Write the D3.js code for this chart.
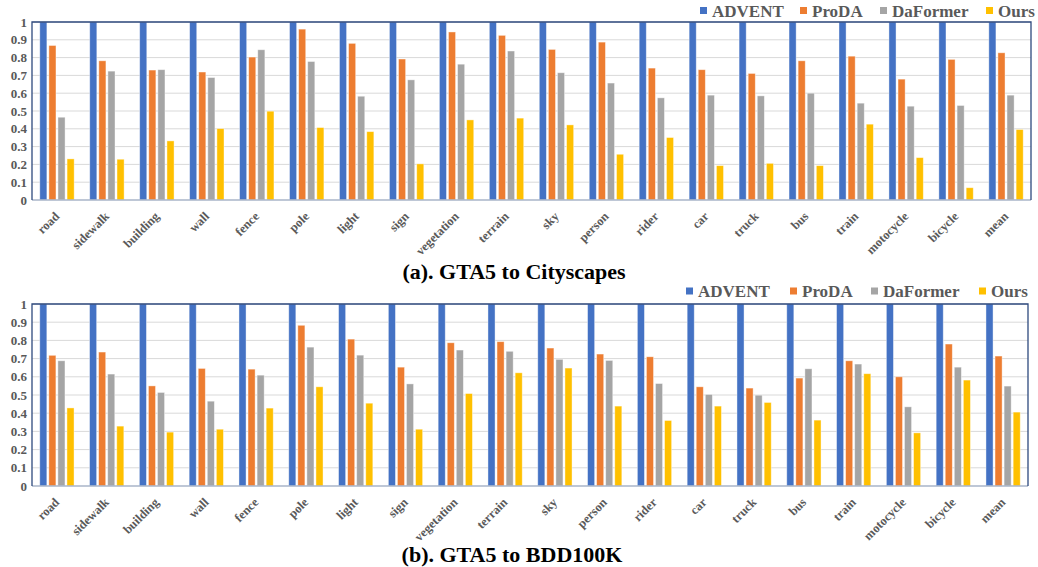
<!DOCTYPE html>
<html>
<head>
<meta charset="utf-8">
<script src="https://cdn.jsdelivr.net/npm/d3@7"></script>
<style>
  body { margin: 0; background: #fff; }
</style>
</head>
<body>
<svg id="chart" width="1038" height="567"></svg>
<script>
// categories and series
const categories = ["road", "sidewalk", "building", "wall", "fence", "pole", "light", "sign",
    "vegetation", "terrain", "sky", "person", "rider", "car", "truck", "bus", "train",
    "motocycle", "bicycle", "mean"];
const seriesNames = ["ADVENT", "ProDA", "DaFormer", "Ours"];
const seriesColors = ["#4472C4", "#ED7D31", "#A5A5A5", "#FFC000"];
const yTicks = [0, 0.1, 0.2, 0.3, 0.4, 0.5, 0.6, 0.7, 0.8, 0.9, 1];

// (a) GTA5 to Cityscapes
const cityAdvent = [1, 1, 1, 1, 1, 1, 1, 1, 1, 1, 1, 1, 1, 1, 1, 1, 1, 1, 1, 1];
const cityProda = [0.868, 0.782, 0.730, 0.719, 0.803, 0.960, 0.880, 0.792, 0.944, 0.925,
    0.846, 0.887, 0.741, 0.732, 0.711, 0.782, 0.808, 0.679, 0.790, 0.827];
const cityDaformer = [0.465, 0.724, 0.732, 0.688, 0.844, 0.778, 0.583, 0.675, 0.763, 0.837,
    0.715, 0.657, 0.574, 0.589, 0.585, 0.600, 0.544, 0.527, 0.531, 0.589];
const cityOurs = [0.231, 0.229, 0.332, 0.401, 0.499, 0.407, 0.384, 0.203, 0.450, 0.460,
    0.422, 0.257, 0.351, 0.193, 0.206, 0.193, 0.426, 0.238, 0.069, 0.396];

// (b) GTA5 to BDD100K
const bddAdvent = [1, 1, 1, 1, 1, 1, 1, 1, 1, 1, 1, 1, 1, 1, 1, 1, 1, 1, 1, 1];
const bddProda = [0.718, 0.736, 0.550, 0.646, 0.642, 0.883, 0.807, 0.653, 0.787, 0.793,
    0.758, 0.725, 0.710, 0.545, 0.538, 0.593, 0.688, 0.600, 0.780, 0.714];
const bddDaformer = [0.688, 0.615, 0.514, 0.466, 0.609, 0.763, 0.719, 0.561, 0.747, 0.740,
    0.696, 0.690, 0.563, 0.503, 0.499, 0.644, 0.670, 0.435, 0.653, 0.549];
const bddOurs = [0.429, 0.329, 0.296, 0.312, 0.428, 0.545, 0.455, 0.312, 0.508, 0.622,
    0.648, 0.439, 0.360, 0.439, 0.459, 0.362, 0.617, 0.292, 0.582, 0.406];

const serif = "Liberation Serif";
const svg = d3.select("#chart");

function drawPanel(cfg) {
    const g = svg.append("g");
    const values = [cfg.advent, cfg.proda, cfg.daformer, cfg.ours];

    let x0 = d3.scaleBand()
        .domain(categories)
        .range([cfg.left, cfg.right])
        .paddingInner(0.312)
        .paddingOuter(0.156);
    let x1 = d3.scaleBand()
        .domain(seriesNames)
        .range([0, x0.bandwidth()])
        .paddingInner(0.22);
    let y = d3.scaleLinear().domain([0, 1]).range([cfg.bottom, cfg.top]);

    // gridlines
    g.selectAll("grid")
        .data(yTicks.slice(1))
        .enter().append("line")
        .attr("x1", cfg.left).attr("x2", cfg.right)
        .attr("y1", d => y(d)).attr("y2", d => y(d))
        .attr("stroke", "#D9D9D9")
        .attr("stroke-width", 1);

    // bars
    let groups = g.selectAll("group")
        .data(categories)
        .enter().append("g")
        .attr("transform", d => "translate(" + x0(d) + ",0)");

    groups.selectAll("rect")
        .data((c, i) => seriesNames.map((s, k) => ({s: s, k: k, v: values[k][i]})))
        .enter().append("rect")
        .attr("x", d => x1(d.s))
        .attr("width", x1.bandwidth())
        .attr("y", d => y(d.v))
        .attr("height", d => y(0) - y(d.v))
        .attr("fill", d => seriesColors[d.k])
        .attr("stroke", "#fff")
        .attr("stroke-opacity", 0.5)
        .attr("stroke-width", 0.8);

    // frame: bottom axis light, others dark
    g.append("line")
        .attr("x1", cfg.left).attr("x2", cfg.right)
        .attr("y1", cfg.bottom).attr("y2", cfg.bottom)
        .attr("stroke", "#A9B4C8").attr("stroke-width", 1.5);
    g.append("path")
        .attr("d", "M" + cfg.left + "," + cfg.bottom + "V" + cfg.top + "H" + cfg.right + "V" + cfg.bottom)
        .attr("fill", "none")
        .attr("stroke", "#2F4A7E")
        .attr("stroke-width", 1.3);

    // y axis labels
    let yAxis = d3.axisLeft(y)
        .tickValues(yTicks)
        .tickFormat(d => String(d))
        .tickSize(0)
        .tickPadding(5);
    let ya = g.append("g")
        .attr("transform", "translate(" + cfg.left + ",0)")
        .call(yAxis)
        .attr("font-family", serif)
        .attr("font-weight", "bold")
        .attr("font-size", 13);
    ya.select(".domain").remove();
    ya.selectAll("text").attr("fill", "#595959");

    // x labels, rotated -45 degrees, ending under the group centre
    g.selectAll("xlabel")
        .data(categories)
        .enter().append("text")
        .attr("transform", d => "translate(" + (x0(d) + x0.bandwidth() / 2) + "," + (cfg.bottom + 14) + ") rotate(-45)")
        .attr("text-anchor", "end")
        .attr("dy", "0.35em")
        .attr("fill", "#595959")
        .attr("font-family", serif)
        .attr("font-weight", "bold")
        .attr("font-size", 12.5)
        .text(d => d);

    // legend
    let legend = g.selectAll("legend")
        .data(seriesNames)
        .enter().append("g")
        .attr("transform", (d, i) => "translate(" + cfg.legendX[i] + "," + cfg.legendY + ")");
    legend.append("rect")
        .attr("x", 0).attr("y", -3.5)
        .attr("width", 7).attr("height", 7)
        .attr("fill", (d, i) => seriesColors[i]);
    legend.append("text")
        .attr("x", 12).attr("y", 6)
        .attr("fill", "#595959")
        .attr("font-family", serif)
        .attr("font-weight", "bold")
        .attr("font-size", 17)
        .text(d => d);

    // caption
    g.append("text")
        .attr("x", cfg.titleX).attr("y", cfg.titleY)
        .attr("text-anchor", "middle")
        .attr("fill", "#000")
        .attr("font-family", serif)
        .attr("font-weight", "bold")
        .attr("font-size", 22)
        .text(cfg.title);
}

drawPanel({
    advent: cityAdvent, proda: cityProda, daformer: cityDaformer, ours: cityOurs,
    left: 32, right: 1031, top: 22, bottom: 200,
    legendX: [700, 800, 880, 986], legendY: 10.5,
    title: "(a). GTA5 to Cityscapes", titleX: 514, titleY: 279
});

drawPanel({
    advent: bddAdvent, proda: bddProda, daformer: bddDaformer, ours: bddOurs,
    left: 32, right: 1028, top: 304, bottom: 486,
    legendX: [686, 790, 871, 979], legendY: 291,
    title: "(b). GTA5 to BDD100K", titleX: 512, titleY: 562
});
</script>
</body>
</html>
